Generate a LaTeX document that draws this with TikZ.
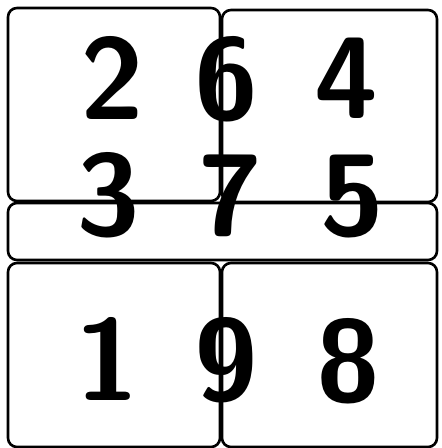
\documentclass[tikz,border=0pt]{standalone}
\usepackage{tikz}
\usetikzlibrary{positioning}

\tikzset{
  panel/.style={line width=2.6pt, rounded corners=9pt},
  digit/.style={inner sep=0pt, font=\fontsize{116}{116}\selectfont\sffamily\bfseries}
}

\begin{document}
\begin{tikzpicture}[x=1pt, y=-1pt]
    \useasboundingbox (0,0) rectangle (442,448);

    % Digits
    \node[digit] (d2) at (112,78) {2};
    \node[digit] (d6) at (226,79) {6};
    \node[digit] (d4) at (346,78) {4};
    \node[digit] (d3) at (108,195) {3};
    \node[digit] (d7) at (230,196) {7};
    \node[digit] (d5) at (352,197) {5};
    \node[digit] (d1) at (107,359) {1};
    \node[digit] (d9) at (226,360) {9};
    \node[digit] (d8) at (348,361) {8};

    % Panels
    \draw[panel] (8,8) rectangle (220,201);
    \draw[panel] (222,10) rectangle (437,202);
    \draw[panel] (8,203) rectangle (437,260);
    \draw[panel] (8,263) rectangle (220,447);
    \draw[panel] (222,263) rectangle (437,447);
\end{tikzpicture}
\end{document}
